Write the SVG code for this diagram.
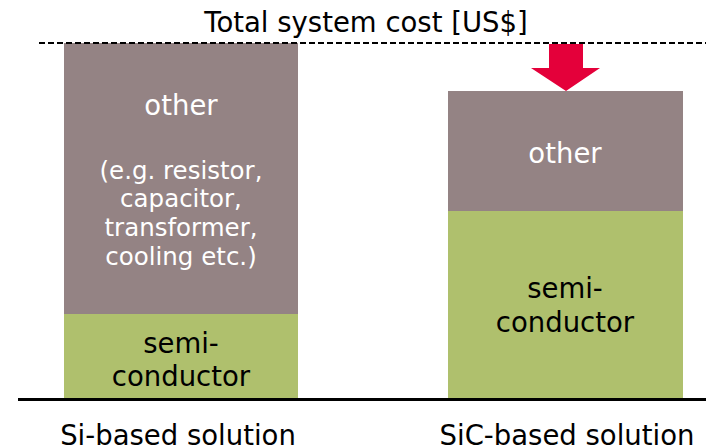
<svg xmlns="http://www.w3.org/2000/svg" width="706" height="448" viewBox="0 0 706 448">
  <style>
    text { font-family: "DejaVu Sans", Verdana, sans-serif; text-anchor: middle; }
    .other { fill: #948384; }
    .semi { fill: #afc06d; }
    .lbl { font-size: 27.5px; }
    .wht { fill: #ffffff; }
    .blk { fill: #000000; }
    .note { font-size: 24.5px; fill: #ffffff; }
    .axis { font-size: 27.5px; fill: #000000; }
  </style>
  <rect width="706" height="448" fill="#ffffff"/>

  <g id="si-bar">
    <rect class="other" x="64" y="43" width="234" height="271"/>
    <rect class="semi" x="64" y="314" width="234" height="85"/>
    <text class="lbl wht" x="181" y="115">other</text>
    <text class="note" x="181" y="179">(e.g. resistor,</text>
    <text class="note" x="181" y="207">capacitor,</text>
    <text class="note" x="181" y="236">transformer,</text>
    <text class="note" x="181" y="265">cooling etc.)</text>
    <text class="lbl blk" x="181" y="353">semi-</text>
    <text class="lbl blk" x="181" y="386">conductor</text>
  </g>

  <g id="sic-bar">
    <rect class="other" x="448" y="91" width="235" height="120"/>
    <rect class="semi" x="448" y="211" width="235" height="188"/>
    <text class="lbl wht" x="565" y="163">other</text>
    <text class="lbl blk" x="565" y="298">semi-</text>
    <text class="lbl blk" x="565" y="332">conductor</text>
  </g>

  <g id="connectors">
    <line x1="39" y1="43" x2="706" y2="43" stroke="#000" stroke-width="2" stroke-dasharray="6,3"/>
    <polygon fill="#e4003a" points="549,44 583,44 583,68 600,68 566,91 531,68 549,68"/>
    <line x1="18" y1="399.5" x2="706" y2="399.5" stroke="#000" stroke-width="3"/>
  </g>

  <text class="axis" x="366" y="32">Total system cost [US$]</text>
  <text class="axis" x="178" y="445">Si-based solution</text>
  <text class="axis" x="567" y="445">SiC-based solution</text>
</svg>
